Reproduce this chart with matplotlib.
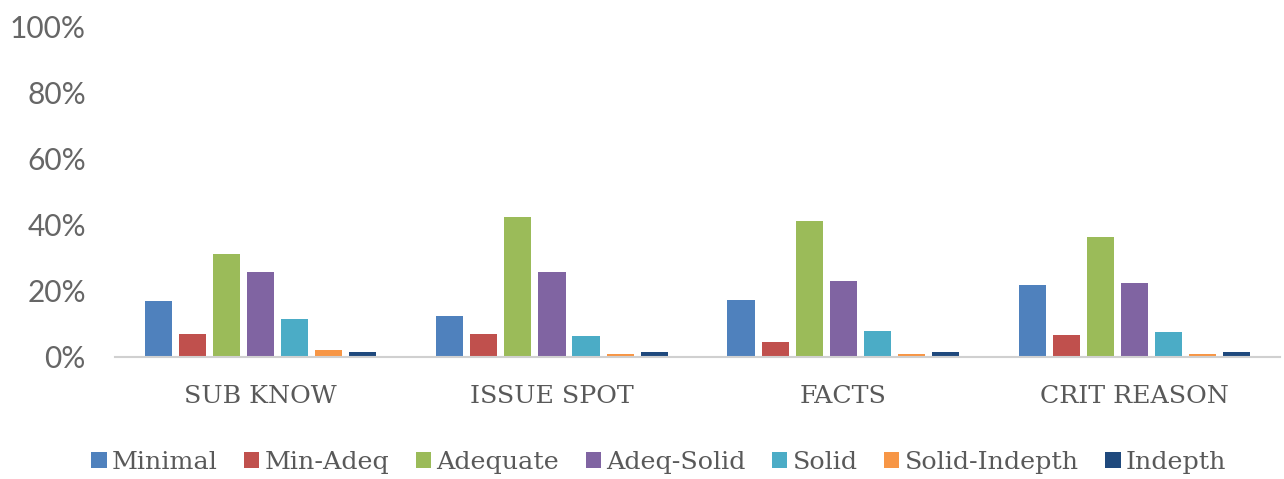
import matplotlib
matplotlib.use('Agg')
import matplotlib.pyplot as plt
import numpy as np

# data
categories = ['SUB KNOW', 'ISSUE SPOT', 'FACTS', 'CRIT REASON']
series = ['Minimal', 'Min-Adeq', 'Adequate', 'Adeq-Solid', 'Solid', 'Solid-Indepth', 'Indepth']
minimal = [17.0, 12.5, 17.4, 21.9]
min_adeq = [7.0, 7.0, 4.5, 6.6]
adequate = [31.3, 42.3, 41.3, 36.4]
adeq_solid = [25.9, 25.9, 23.0, 22.4]
solid = [11.6, 6.4, 8.0, 7.5]
solid_indepth = [2.1, 1.0, 1.0, 1.0]
indepth = [1.5, 1.5, 1.5, 1.5]
values = [minimal, min_adeq, adequate, adeq_solid, solid, solid_indepth, indepth]
colors = ['#4F81BD', '#C0504D', '#9BBB59', '#8064A2', '#4BACC6', '#F79646', '#1F497D']

fig = plt.figure(figsize=(12.84, 4.79), dpi=100)
ax = fig.add_axes([0.0896, 0.2547, 0.9074, 0.689])

x = np.arange(len(categories))
pitch = 0.117
width = 0.093
for i, (name, vals) in enumerate(zip(series, values)):
    ax.bar(x + (i - 3) * pitch, vals, width, color=colors[i], label=name)

ax.set_xlim(-0.5, 3.5)
ax.set_ylim(0, 100)
ax.set_yticks(np.arange(0, 101, 20))
ax.set_yticklabels(['%d%%' % v for v in range(0, 101, 20)],
                   fontfamily='Lato', fontsize=21.5, color='#666666')
ax.set_xticks(x)
ax.set_xticklabels(categories, fontfamily='DejaVu Serif', fontsize=18.2, color='#595959')
ax.tick_params(axis='both', length=0)
ax.tick_params(axis='y', pad=21)
ax.tick_params(axis='x', pad=20)

for s in ['top', 'right', 'left']:
    ax.spines[s].set_visible(False)
ax.spines['bottom'].set_color('#D0D0D0')
ax.spines['bottom'].set_linewidth(1.5)

leg = fig.legend(loc='center', bbox_to_anchor=(0.513, 0.035), ncol=7, frameon=False,
                 prop={'family': 'DejaVu Serif', 'size': 18.3},
                 handlelength=0.6, handleheight=0.6, handletextpad=0.2, columnspacing=1.05)
for t in leg.get_texts():
    t.set_color('#595959')

fig.savefig('out.png', dpi=100)
